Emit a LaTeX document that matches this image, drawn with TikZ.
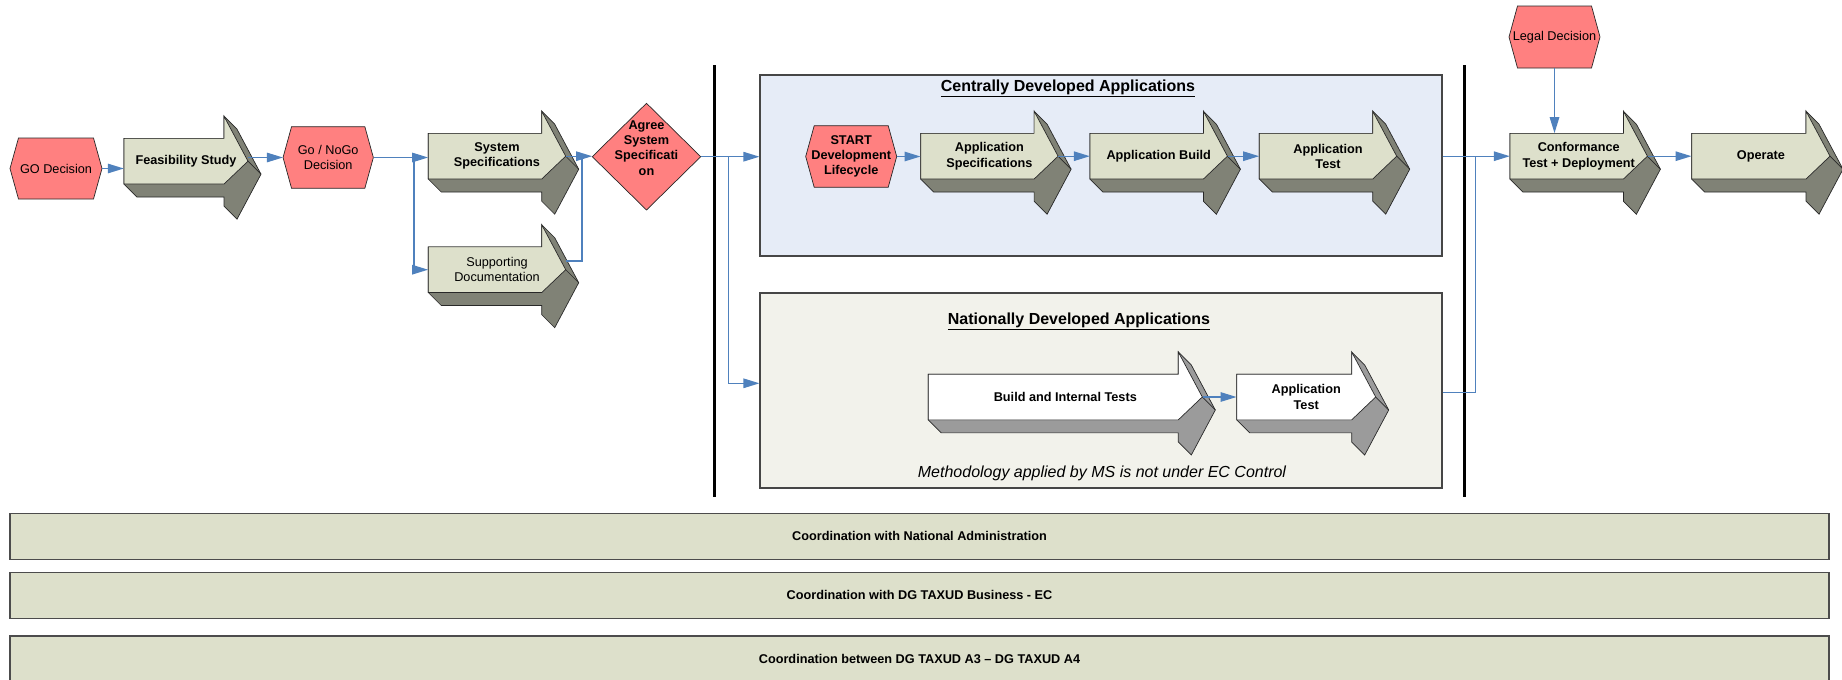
\documentclass[tikz,border=0pt]{standalone}
\usepackage{fontspec}
\setmainfont{Liberation Sans}
\usetikzlibrary{arrows.meta,calc}
\definecolor{arrface}{RGB}{221,224,203}
\definecolor{arrside}{RGB}{128,130,118}
\definecolor{hexred}{RGB}{255,128,128}
\definecolor{cenfill}{RGB}{230,236,247}
\definecolor{natfill}{RGB}{242,242,235}
\definecolor{connblue}{RGB}{79,129,189}
\definecolor{natside}{RGB}{155,155,155}
\definecolor{edgecol}{RGB}{40,40,40}
\definecolor{boxedge}{RGB}{70,70,70}

\tikzset{
  shapeedge/.style={draw=edgecol, line width=0.7},
  arrtext/.style={inner sep=0, align=center, font=\fontsize{12.7}{15.3}\selectfont\bfseries},
  arrtextmd/.style={font=\fontsize{12.7}{15.3}\selectfont},
  hextext/.style={inner sep=0, align=center, font=\fontsize{12.7}{15.3}\selectfont},
  hextextbf/.style={font=\fontsize{12.7}{15.3}\selectfont\bfseries},
  conn/.style={draw=connblue, line width=1.3, -{Triangle[length=16pt,width=9.5pt]}},
  connline/.style={draw=connblue, line width=1.3},
  phasebox/.style={draw=boxedge, line width=1.1, inner sep=0},
  coordbar/.style={fill=arrface, draw=black!70, line width=1.3, inner sep=0,
     minimum width=1819, minimum height=46, font=\fontsize{12.7}{15.3}\selectfont\bfseries},
  sepline/.style={line width=3.6, draw=black},
  boxtitle/.style={inner sep=0, font=\fontsize{16}{19}\selectfont\bfseries},
}

% [extra node options] name, left x, centre y, body length, label, face colour, side colour
\newcommand{\tdarrow}[8][]{%
  \begin{scope}[shift={(#3,#4)}]
    \filldraw[fill=#8, shapeedge] (0,-22.85) -- (#5,-22.85) -- (#5,-45) -- ({#5+13},-32)
      -- ({#5+37},13) -- ({#5+13},58) -- (#5,45) -- (#5,35.85) -- (13,35.85) -- (0,22.85) -- cycle;
    \filldraw[fill=#7, shapeedge] (0,-22.85) -- (#5,-22.85) -- (#5,-45) -- ({#5+24},0)
      -- (#5,22.85) -- (0,22.85) -- cycle;
    \draw[shapeedge] ({#5+24},0) -- ({#5+37},13);
  \end{scope}
  \node[arrtext, minimum width={#5+24}, minimum height=45.7, #1] (#2) at ({#3+(#5+24)/2},#4) {#6};}

% [extra node options] name, cx, cy, w, h, text
\newcommand{\hexnode}[7][]{%
  \filldraw[fill=hexred, shapeedge] ({#3-#5/2},#4) -- ({#3-#5/2+8.5},{#4-#6/2})
    -- ({#3+#5/2-8.5},{#4-#6/2}) -- ({#3+#5/2},#4) -- ({#3+#5/2-8.5},{#4+#6/2})
    -- ({#3-#5/2+8.5},{#4+#6/2}) -- cycle;
  \node[hextext, minimum width=#5, minimum height=#6, #1] (#2) at (#3,#4) {#7};}

\begin{document}
\begin{tikzpicture}[x=1pt, y=-1pt]
\useasboundingbox (0,0) rectangle (1842,680);
\fill[white] (0,0) rectangle (1842,680);

% phase boxes
\node[phasebox, fill=cenfill, minimum width=682, minimum height=181] (central) at (1101,165.5) {};
\node[phasebox, fill=natfill, minimum width=682, minimum height=195] (nat) at (1101,390.5) {};
\node[boxtitle] (centraltitle) at (1068,88) {\underline{Centrally Developed Applications}};
\node[boxtitle] (nattitle) at (1079,321) {\underline{Nationally Developed Applications}};
\node[inner sep=0, font=\fontsize{16}{19}\selectfont\itshape] (method) at (1102,473)
  {Methodology applied by MS is not under EC Control};

% separators
\coordinate (s1t) at (714.3,65); \coordinate (s1b) at (714.3,497);
\coordinate (s2t) at (1464.3,65); \coordinate (s2b) at (1464.3,497);
\draw[sepline] (s1t) -- (s1b);
\draw[sepline] (s2t) -- (s2b);

% decisions
\hexnode{go}{56}{168.5}{92}{61}{GO Decision}
\hexnode{nogo}{328.2}{157.5}{90.3}{61.6}{Go / NoGo\\Decision}
\hexnode[hextextbf]{start}{851.2}{156.5}{91}{61.6}{START\\Development\\Lifecycle}
\hexnode{legal}{1554.5}{37}{91}{62}{Legal Decision}

\filldraw[fill=hexred, shapeedge] (592.3,156.7) -- (646.5,103.3) -- (700.7,156.7) -- (646.5,210) -- cycle;
\node[inner sep=0, minimum width=108.4, minimum height=106.7] (agree) at (646.5,156.7) {};
\node[arrtext] (agreelabel) at (646.5,148) {Agree\\System\\Specificati\\on};

% 3D arrows
\tdarrow{feas}{124}{161.2}{100}{Feasibility Study}{arrface}{arrside}
\tdarrow{sys}{428.3}{156.2}{113.4}{System\\Specifications}{arrface}{arrside}
\tdarrow[arrtextmd]{supp}{428.3}{269.7}{113.4}{Supporting\\Documentation}{arrface}{arrside}
\tdarrow{appspec}{920.7}{156.2}{113.4}{Application\\Specifications}{arrface}{arrside}
\tdarrow{appbuild}{1090}{156.2}{113.4}{Application Build}{arrface}{arrside}
\tdarrow{apptest}{1259.3}{156.2}{113.4}{Application\\Test}{arrface}{arrside}
\tdarrow{conf}{1510}{156.2}{113.4}{Conformance\\Test + Deployment}{arrface}{arrside}
\tdarrow{operate}{1691.7}{156.2}{114.3}{Operate}{arrface}{arrside}
\tdarrow{build}{928.3}{397}{250}{Build and Internal Tests}{white}{natside}
\tdarrow{natapptest}{1236.7}{397}{115}{Application\\Test}{white}{natside}

% coordination bars
\node[coordbar] (bar1) at (919.5,536.3) {Coordination with National Administration};
\node[coordbar] (bar2) at (919.5,595.3) {Coordination with DG TAXUD Business - EC};
\node[coordbar] (bar3) at (919.5,659) {Coordination between DG TAXUD A3 -- DG TAXUD A4};

% connectors
\coordinate (j1) at (414,157.5);
\coordinate (j2) at (582,156.5);
\coordinate (j3) at (728.3,156.7);
\coordinate (j4) at (1475.3,156.2);

\draw[conn] (go.east) -- (go.east -| feas.west);
\draw[conn] (feas.east |- nogo.west) -- (nogo.west);
\draw[conn] (nogo.east) -- (nogo.east -| sys.west);
\draw[conn] (j1) |- (supp.west);
\draw[conn] (sys.east) -- (sys.east -| agree.west);
\draw[connline] ([yshift=8.7pt]supp.east) -| (j2);
\draw[conn] (agree.east) -- (agree.east -| central.west);
\draw[conn] (j3) |- ([yshift=7.2pt]nat.west);
\draw[conn] (start.east) -- (start.east -| appspec.west);
\draw[conn] (appspec.east) -- (appbuild.west);
\draw[conn] (appbuild.east) -- (apptest.west);
\draw[conn] (conf.west -| central.east) -- (conf.west);
\draw[connline] ([yshift=-2.2pt]nat.east) -| (j4);
\draw[conn] (legal.south) -- (legal.south |- conf.north);
\draw[conn] (conf.east) -- (operate.west);
\draw[conn] (build.east) -- (natapptest.west);
\end{tikzpicture}
\end{document}
